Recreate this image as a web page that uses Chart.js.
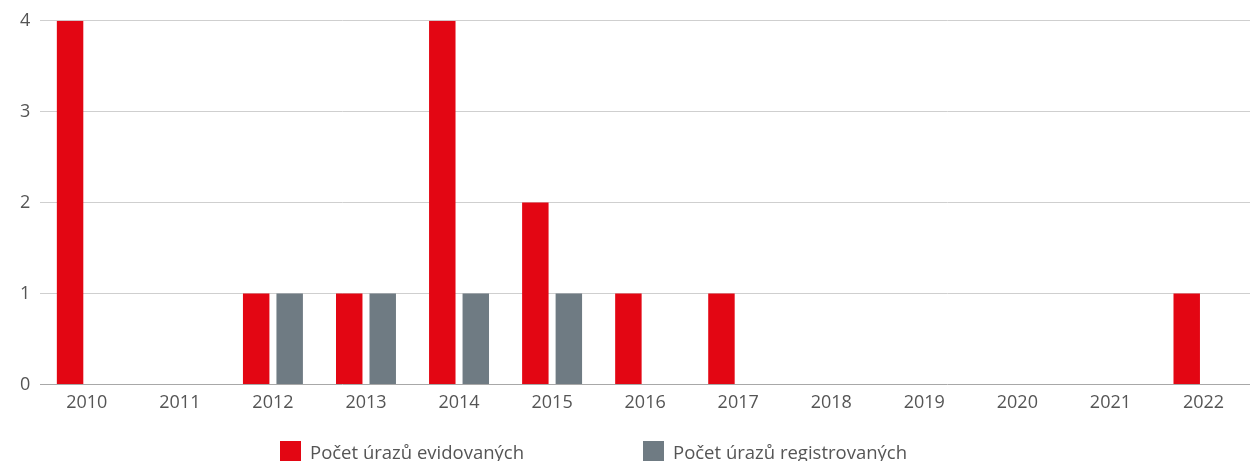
<!DOCTYPE html>
<html>
<head>
<meta charset="utf-8">
<script src="https://cdn.jsdelivr.net/npm/chart.js@4/dist/chart.umd.min.js"></script>
<style>
  html, body { margin: 0; padding: 0; background: #fff; }
  #wrap { position: relative; width: 1250px; height: 461px; overflow: hidden; }
  #legenda { position: absolute; top: 439px; left: 0; width: 1250px; font-family: "Open Sans", sans-serif; font-size: 18.5px; color: #555; }
  .item { position: absolute; top: 0; white-space: nowrap; }
  .box { display: inline-block; width: 21px; height: 21px; vertical-align: -3px; margin-right: 9px; }
</style>
</head>
<body>
<div id="wrap">
  <canvas id="graf" width="1250" height="461"></canvas>
  <div id="legenda"></div>
</div>
<script>
// Dados do gráfico
const roky = ['2010', '2011', '2012', '2013', '2014', '2015', '2016', '2017', '2018', '2019', '2020', '2021', '2022'];
const evidovane = [4, 0, 1, 1, 4, 2, 1, 1, 0, 0, 0, 0, 1];
const registrovane = [0, 0, 1, 1, 1, 1, 0, 0, 0, 0, 0, 0, 0];
const nazvySerii = ['Počet úrazů evidovaných', 'Počet úrazů registrovaných'];
const barvy = ['#e30613', '#6f7b83'];
const osaY = [0, 1, 2, 3, 4];

const fonte = "'Open Sans', sans-serif";

// Legenda em HTML
const legenda = document.getElementById('legenda');
const posicoes = [280, 643];
nazvySerii.forEach((nome, i) => {
  const div = document.createElement('div');
  div.className = 'item';
  div.style.left = posicoes[i] + 'px';
  const box = document.createElement('span');
  box.className = 'box';
  box.style.background = barvy[i];
  div.appendChild(box);
  div.appendChild(document.createTextNode(nome));
  legenda.appendChild(div);
});

const ctx = document.getElementById('graf').getContext('2d');
new Chart(ctx, {
  type: 'bar',
  data: {
    labels: roky,
    datasets: [
      { label: nazvySerii[0], data: evidovane, backgroundColor: barvy[0], barPercentage: 0.79, categoryPercentage: 0.72 },
      { label: nazvySerii[1], data: registrovane, backgroundColor: barvy[1], barPercentage: 0.79, categoryPercentage: 0.72 }
    ]
  },
  options: {
    responsive: false,
    animation: false,
    layout: { padding: { left: 10, right: 0, top: 19, bottom: 39 } },
    plugins: { legend: { display: false }, tooltip: { enabled: false } },
    scales: {
      x: {
        grid: { display: false, drawTicks: false },
        border: { display: false },
        ticks: { color: '#555', font: { family: fonte, size: 18 }, padding: 8 }
      },
      y: {
        min: 0,
        max: 4,
        afterBuildTicks: axis => { axis.ticks = osaY.map(v => ({ value: v })); },
        grid: {
          drawTicks: false,
          color: c => c.tick && c.tick.value === 0 ? '#a8a8a8' : '#cfcfcf',
          lineWidth: 1
        },
        border: { display: false },
        ticks: { color: '#555', font: { family: fonte, size: 18 }, padding: 10 }
      }
    }
  }
});
</script>
</body>
</html>
